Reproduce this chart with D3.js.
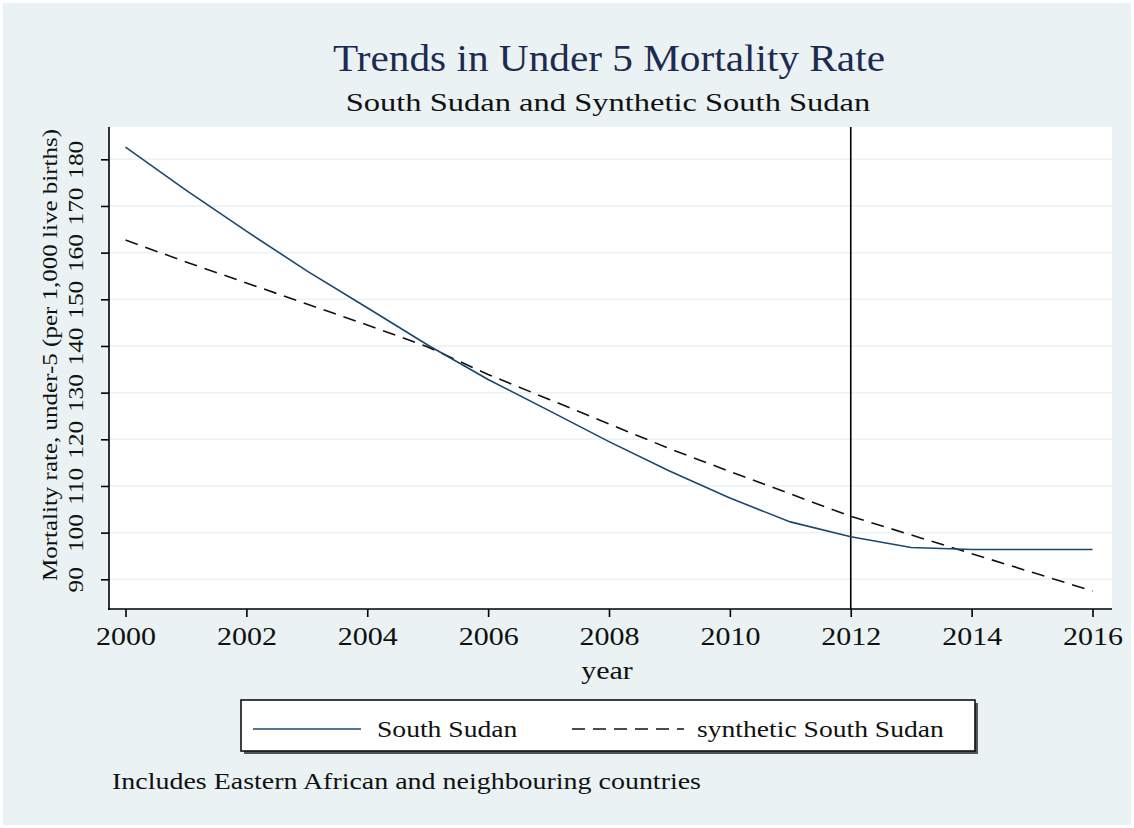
<!DOCTYPE html>
<html>
<head>
<meta charset="utf-8">
<script src="https://cdnjs.cloudflare.com/ajax/libs/d3/7.8.5/d3.min.js"></script>
<style>
  body { margin: 0; background: #fff; }
  text { font-family: "Liberation Serif", "DejaVu Serif", serif; }
</style>
</head>
<body>
<div class="chart"></div>
<script>
var svgWidth = 1134;
var svgHeight = 828;

// data
var years = [2000, 2001, 2002, 2003, 2004, 2005, 2006, 2007, 2008,
             2009, 2010, 2011, 2012, 2013, 2014, 2015, 2016];
var southSudan = [182.6, 173.4, 164.6, 156.1, 148.2, 140.2, 132.8, 126.2, 119.5,
                  113.2, 107.4, 102.3, 99.1, 96.8, 96.4, 96.4, 96.4];
var synthetic = [162.7, 158.0, 153.5, 149.0, 144.5, 139.8, 133.9, 128.6, 123.3,
                 118.0, 113.1, 108.3, 103.5, 99.5, 95.5, 91.5, 87.5];
var yTicks = [90, 100, 110, 120, 130, 140, 150, 160, 170, 180];
var xTicks = [2000, 2002, 2004, 2006, 2008, 2010, 2012, 2014, 2016];
var treatYear = 2012;

var plot = { left: 109, right: 1112, top: 127, bottom: 609 };
var dashPattern = "13,8";

// the original font is wider than Times, so stretch glyphs a bit
function widen(sel, k) {
  sel.each(function() {
    var len = this.getComputedTextLength();
    d3.select(this)
      .attr("textLength", len * k)
      .attr("lengthAdjust", "spacingAndGlyphs");
  });
}

var svg = d3.select(".chart")
  .append("svg")
  .attr("width", svgWidth)
  .attr("height", svgHeight);

// graph region
svg.append("rect")
  .attr("x", 3).attr("y", 3)
  .attr("width", svgWidth - 6).attr("height", svgHeight - 6)
  .attr("fill", "#eaf2f3");

// plot region
svg.append("rect")
  .attr("x", plot.left).attr("y", plot.top)
  .attr("width", plot.right - plot.left).attr("height", plot.bottom - plot.top)
  .attr("fill", "#ffffff");

var x = d3.scaleLinear().domain([2000, 2016]).range([125.5, 1092.5]);
var y = d3.scaleLinear().domain([90, 180]).range([579.3, 159.3]);

// gridlines
svg.append("g").selectAll("line")
  .data(yTicks)
  .enter()
  .append("line")
  .attr("x1", plot.left).attr("x2", plot.right)
  .attr("y1", d => y(d)).attr("y2", d => y(d))
  .attr("stroke", "#eaf2f3")
  .attr("stroke-width", 1.5);

// y axis
var leftAxis = d3.axisLeft(y).tickValues(yTicks).tickSize(8).tickFormat(d3.format("d"));
var yAxis = svg.append("g")
  .attr("transform", `translate(${plot.left}, 0)`)
  .call(leftAxis);
yAxis.select(".domain").remove();
yAxis.append("line")
  .attr("x1", 0).attr("x2", 0)
  .attr("y1", plot.top).attr("y2", plot.bottom + 1)
  .attr("stroke", "#000").attr("stroke-width", 1.6);
yAxis.selectAll(".tick line").attr("stroke", "#000").attr("stroke-width", 1.6);
yAxis.selectAll(".tick text")
  .attr("font-family", "Liberation Serif")
  .attr("font-size", 22)
  .attr("fill", "#111")
  .attr("text-anchor", "middle")
  .attr("transform", "rotate(-90)")
  .attr("x", 0)
  .attr("y", -26)
  .attr("dy", 0)
  .call(widen, 1.15);

// x axis
var bottomAxis = d3.axisBottom(x).tickValues(xTicks).tickSize(8).tickFormat(d3.format("d"));
var xAxis = svg.append("g")
  .attr("transform", `translate(0, ${plot.bottom})`)
  .call(bottomAxis);
xAxis.select(".domain").remove();
xAxis.append("line")
  .attr("x1", plot.left - 1).attr("x2", plot.right)
  .attr("y1", 0).attr("y2", 0)
  .attr("stroke", "#000").attr("stroke-width", 1.6);
xAxis.selectAll(".tick line").attr("stroke", "#000").attr("stroke-width", 1.6);
xAxis.selectAll(".tick text")
  .attr("font-family", "Liberation Serif")
  .attr("font-size", 25)
  .attr("fill", "#111")
  .attr("y", 18)
  .attr("dy", "0.71em")
  .call(widen, 1.2);

// treatment line
svg.append("line")
  .attr("x1", x(treatYear)).attr("x2", x(treatYear))
  .attr("y1", plot.top).attr("y2", plot.bottom)
  .attr("stroke", "#000")
  .attr("stroke-width", 1.6);

var lineGen = d3.line()
  .x((d, i) => x(years[i]))
  .y(d => y(d));

svg.append("path")
  .datum(synthetic)
  .attr("d", lineGen)
  .attr("fill", "none")
  .attr("stroke", "#111")
  .attr("stroke-width", 1.6)
  .attr("stroke-dasharray", dashPattern);

svg.append("path")
  .datum(southSudan)
  .attr("d", lineGen)
  .attr("fill", "none")
  .attr("stroke", "#1a476f")
  .attr("stroke-width", 1.6);

// titles
svg.append("text")
  .attr("x", 609).attr("y", 71)
  .attr("text-anchor", "middle")
  .attr("font-size", 37)
  .attr("fill", "#1e2b50")
  .text("Trends in Under 5 Mortality Rate")
  .call(widen, 1.115);

svg.append("text")
  .attr("x", 608).attr("y", 111)
  .attr("text-anchor", "middle")
  .attr("font-size", 26)
  .attr("fill", "#111")
  .text("South Sudan and Synthetic South Sudan")
  .call(widen, 1.25);

// axis titles
svg.append("text")
  .attr("transform", `translate(57, ${(plot.top + plot.bottom) / 2 - 13}) rotate(-90)`)
  .attr("text-anchor", "middle")
  .attr("font-size", 20)
  .attr("fill", "#111")
  .text("Mortality rate, under-5 (per 1,000 live births)")
  .call(widen, 1.25);

svg.append("text")
  .attr("x", 607).attr("y", 679)
  .attr("text-anchor", "middle")
  .attr("font-size", 25)
  .attr("fill", "#111")
  .text("year")
  .call(widen, 1.2);

// legend
var legend = svg.append("g");
legend.append("rect")
  .attr("x", 244).attr("y", 703)
  .attr("width", 734).attr("height", 51)
  .attr("fill", "#555");
legend.append("rect")
  .attr("x", 241).attr("y", 700)
  .attr("width", 734).attr("height", 51)
  .attr("fill", "#fff")
  .attr("stroke", "#111")
  .attr("stroke-width", 1.6);

var legendItems = [
  { label: "South Sudan", color: "#1a476f", dash: null, x1: 253, x2: 361, tx: 377 },
  { label: "synthetic South Sudan", color: "#111", dash: dashPattern, x1: 572, x2: 684, tx: 697 }
];
legendItems.forEach(function(item) {
  legend.append("line")
    .attr("x1", item.x1).attr("x2", item.x2)
    .attr("y1", 729).attr("y2", 729)
    .attr("stroke", item.color)
    .attr("stroke-width", 1.6)
    .attr("stroke-dasharray", item.dash);
  legend.append("text")
    .attr("x", item.tx).attr("y", 737)
    .attr("font-size", 23)
    .attr("fill", "#111")
    .text(item.label)
    .call(widen, 1.2);
});

// note
svg.append("text")
  .attr("x", 112).attr("y", 789)
  .attr("font-size", 23)
  .attr("fill", "#111")
  .text("Includes Eastern African and neighbouring countries")
  .call(widen, 1.215);
</script>
</body>
</html>
